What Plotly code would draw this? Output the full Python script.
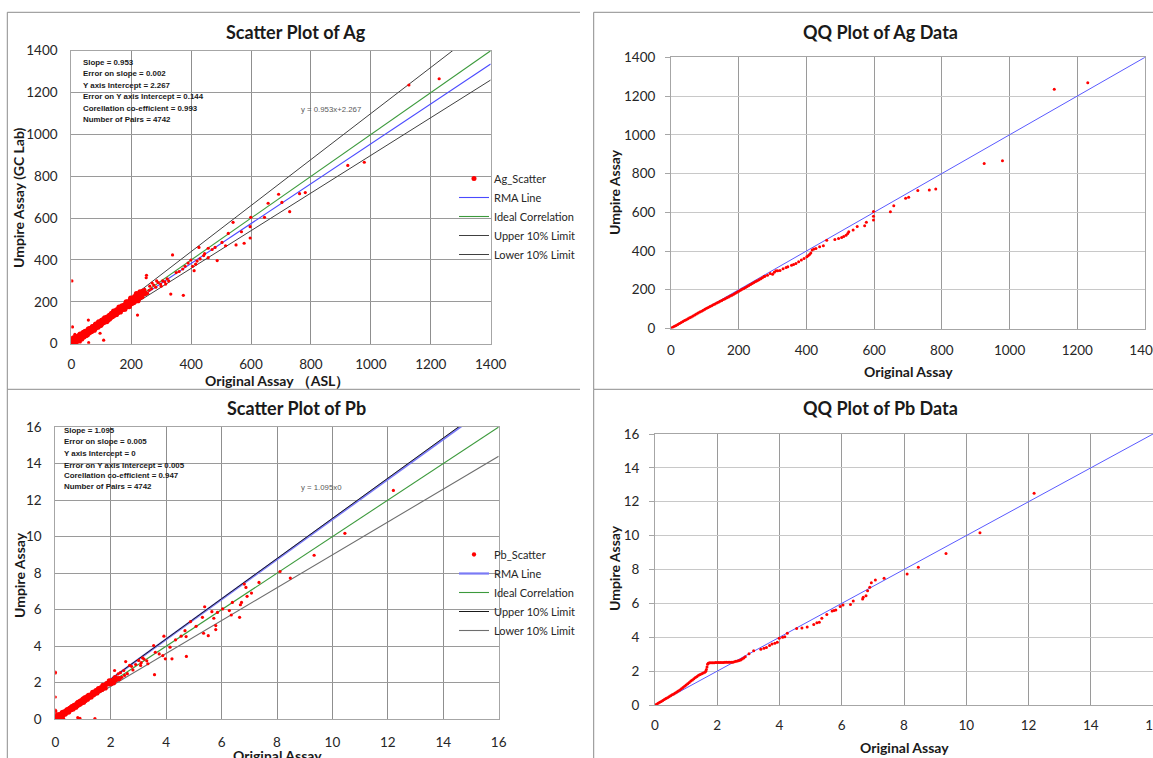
import plotly.graph_objects as go

W, H = 1153, 758

# ---------------- DATA ----------------
# Ag scatter: dense cloud (original, umpire)
ag_cloud_x = [1, 2, 3, 4, 5, 6, 7, 8, 9, 10,
              12, 13, 14, 15, 16, 18, 19, 20, 21, 22,
              24, 25, 26, 28, 29, 30, 31, 33, 34, 35,
              37, 38, 40, 41, 42, 44, 45, 47, 48, 50,
              52, 53, 55, 56, 58, 60, 61, 63, 64, 66,
              68, 70, 71, 73, 75, 76, 78, 80, 82, 84,
              86, 88, 90, 92, 94, 96, 98, 100, 102, 104,
              106, 108, 110, 112, 114, 116, 118, 120, 122, 125,
              127, 130, 132, 135, 137, 140, 142, 145, 147, 150,
              152, 155, 157, 160, 163, 165, 168, 170, 173, 176,
              178, 181, 184, 187, 190, 193, 196, 199, 202, 205,
              208, 212, 215, 218, 222, 226, 230, 235, 240, 246,
              3, 6, 9, 11, 14, 17, 20, 23, 27, 32,
              36, 39, 43, 46, 49, 54, 57, 62, 65, 69,
              72, 77, 81, 85, 89, 93, 97, 101, 105, 109,
              113, 117, 121, 124, 128, 133, 138, 143, 148, 153,
              158, 162, 167, 172, 177, 182, 188, 194, 200, 210]
ag_cloud_y = [5, 14, 2, 24, 8, 15, 22, 10, 27, 16,
              8, 23, 16, 31, 10, 25, 17, 33, 22, 14,
              30, 22, 37, 21, 33, 44, 30, 41, 24, 38,
              46, 33, 42, 53, 34, 49, 43, 57, 42, 51,
              59, 44, 59, 53, 69, 54, 63, 71, 60, 71,
              61, 73, 80, 71, 81, 66, 82, 75, 92, 83,
              92, 80, 92, 103, 90, 101, 89, 103, 110, 101,
              113, 102, 111, 122, 109, 120, 107, 126, 120, 128,
              119, 135, 129, 144, 131, 142, 154, 141, 153, 141,
              160, 150, 160, 174, 153, 169, 166, 180, 166, 181,
              166, 187, 199, 183, 199, 179, 199, 217, 194, 212,
              198, 224, 212, 238, 207, 231, 246, 226, 250, 241,
              1, 11, 5, 19, 11, 23, 15, 27, 26, 39,
              33, 45, 42, 50, 42, 57, 55, 67, 60, 71,
              73, 73, 87, 83, 92, 87, 99, 98, 110, 108,
              117, 115, 114, 126, 134, 129, 141, 137, 149, 157,
              155, 164, 173, 168, 180, 176, 193, 192, 208, 204]
# Ag scatter: scattered points
ag_pts_x = [2, 4, 12, 30, 58, 96, 108, 57, 221, 251, 250, 245, 238, 255, 262, 230, 240,
            260, 268, 275, 282, 290, 298, 305, 312, 320, 300, 285, 315, 325, 270,
            332, 374, 338, 372, 350, 360, 380, 390, 399, 405, 410, 415, 420, 426, 430,
            442, 445, 457, 457, 470, 480, 487, 503, 515, 524, 540, 550, 568, 577,
            597, 597, 599, 645, 657, 692, 703, 729, 762, 781, 923, 978, 1127, 1228]
ag_pts_y = [300, 80, 45, 8, 5, 50, 17, 113, 137, 327, 315, 260, 230, 240, 275, 215, 248,
            255, 262, 280, 270, 292, 285, 300, 296, 310, 275, 300, 285, 300, 290,
            237, 231, 424, 357, 340, 345, 370, 385, 400, 370, 349, 380, 395, 460, 405,
            421, 430, 456, 411, 450, 460, 397, 484, 468, 527, 580, 472, 535, 480,
            559, 505, 604, 604, 671, 714, 675, 631, 717, 722, 852, 867, 1236, 1266]
ag_slope, ag_intercept = 0.953, 2.267
ag_line_x = [0, 1400]

ag_stats = ["Slope = 0.953", "Error on slope = 0.002", "Y axis Intercept = 2.267",
            "Error on Y axis Intercept = 0.144", "Corellation co-efficient = 0.993",
            "Number of Pairs = 4742"]
ag_eq = "y = 0.953x+2.267"

# Ag QQ
ag_qq_x = [0, 5, 10, 15, 20, 25, 30, 35, 40, 45, 50, 55, 60, 65, 70, 75, 80, 85, 90, 95,
           100, 105, 110, 115, 120, 125, 130, 135, 140, 145, 150, 155, 160, 165, 170, 175,
           180, 185, 190, 195, 200, 205, 210, 215, 220, 225, 230, 235, 240, 245, 250, 255,
           260, 265, 270, 275,
           277, 285, 293, 300, 305, 310, 315, 322, 331, 340, 345, 356, 362, 369, 377, 385,
           393, 401, 405, 409, 413, 417, 422, 428, 439, 450, 460, 484, 495, 504, 510, 517,
           522, 525, 538, 550, 572, 577, 598, 598, 598, 648, 658, 693, 702, 729, 763, 782,
           925, 979, 1132, 1231]
ag_qq_y = [2, 6, 11, 16, 21, 26, 31, 36, 41, 45, 50, 55, 60, 65, 70, 75, 80, 85, 89, 94,
           99, 104, 108, 113, 118, 122, 127, 132, 136, 141, 145, 150, 154, 159, 163, 168,
           172, 177, 182, 187, 192, 197, 202, 207, 212, 217, 222, 227, 232, 237, 242, 247,
           252, 257, 262, 268,
           270, 275, 284, 280, 290, 298, 298, 300, 308, 315, 319, 327, 330, 336, 345, 353,
           362, 370, 375, 382, 390, 405, 410, 413, 422, 427, 456, 460, 465, 470, 475, 482,
           490, 499, 508, 527, 530, 548, 560, 580, 604, 603, 634, 672, 677, 713, 715, 720,
           852, 866, 1235, 1269]
ag_qq_line = [0, 1400]

# Pb scatter: dense cloud
pb_cloud_x = [0.02, 0.04, 0.05, 0.07, 0.08, 0.1, 0.11, 0.13, 0.15, 0.16,
              0.18, 0.2, 0.22, 0.24, 0.25, 0.27, 0.29, 0.3, 0.32, 0.34,
              0.36, 0.38, 0.4, 0.42, 0.44, 0.46, 0.48, 0.5, 0.52, 0.54,
              0.56, 0.58, 0.6, 0.62, 0.64, 0.66, 0.68, 0.7, 0.72, 0.74,
              0.76, 0.78, 0.8, 0.82, 0.84, 0.86, 0.88, 0.9, 0.92, 0.94,
              0.96, 0.98, 1.0, 1.02, 1.04, 1.06, 1.08, 1.1, 1.12, 1.14,
              1.16, 1.18, 1.2, 1.23, 1.26, 1.29, 1.32, 1.35, 1.38, 1.41,
              1.44, 1.47, 1.5, 1.53, 1.56, 1.6, 1.64, 1.68, 1.72, 1.76,
              1.8, 1.85, 1.9, 1.95, 2.0, 2.05, 2.1, 2.16, 2.22, 2.3]
pb_cloud_y = [0.10, 0.03, 0.17, 0.10, 0.23, 0.08, 0.17, 0.23, 0.11, 0.25,
              0.20, 0.14, 0.29, 0.24, 0.36, 0.22, 0.33, 0.39, 0.29, 0.40,
              0.29, 0.43, 0.40, 0.52, 0.40, 0.53, 0.40, 0.53, 0.60, 0.52,
              0.62, 0.53, 0.70, 0.63, 0.57, 0.70, 0.77, 0.67, 0.77, 0.66,
              0.78, 0.86, 0.76, 0.93, 0.82, 0.91, 0.82, 0.99, 0.92, 0.89,
              1.03, 0.95, 1.10, 0.94, 1.08, 1.18, 1.03, 1.16, 1.12, 1.23,
              1.10, 1.22, 1.31, 1.21, 1.33, 1.22, 1.35, 1.48, 1.34, 1.49,
              1.44, 1.57, 1.44, 1.58, 1.68, 1.57, 1.72, 1.63, 1.86, 1.78,
              1.72, 1.95, 1.94, 2.10, 1.95, 2.12, 2.00, 2.28, 2.22, 2.23]
# Pb scatter: scattered points
pb_pts_x = [0, 0, 0, 0, 0, 0.02, 0.1, 0.05, 0.3, 0.81, 0.89, 1.43,
            2.27, 2.14, 2.47, 2.54, 2.68, 3.01, 3.08, 3.15, 3.34, 2.4, 2.6, 2.8, 2.9, 3.2,
            2.2, 2.35, 2.5, 2.75, 3.1, 3.3,
            3.55, 3.61, 3.75, 3.88, 3.58, 3.92, 3.97, 4.14, 4.21, 4.34, 4.54, 4.68, 4.72,
            4.73, 4.88, 5.08, 5.31, 5.35, 5.39, 5.52, 5.65, 5.72, 5.79, 5.79, 5.85, 6.04,
            6.28, 6.35, 6.39, 6.65, 6.68, 6.72, 6.82, 6.88, 6.92, 7.08, 7.35, 8.11, 8.48,
            9.34, 10.45, 12.2]
pb_pts_y = [2.53, 2.58, 1.22, 0.5, 0.35, 0.45, 0.3, 0.0, 0.05, 0.09, 0.05, 0.04,
            2.49, 2.67, 2.67, 3.16, 2.95, 3.22, 2.95, 3.36, 3.04, 2.3, 2.5, 2.7, 3.0, 3.3,
            2.1, 2.55, 2.4, 2.9, 3.1, 3.2,
            4.04, 3.67, 3.58, 3.49, 2.44, 4.55, 3.31, 3.95, 3.31, 4.35, 4.55, 4.85, 4.53,
            3.44, 5.35, 5.09, 5.58, 4.71, 6.16, 4.58, 5.89, 5.53, 5.13, 4.91, 5.85, 6.04,
            5.95, 5.71, 6.4, 5.58, 6.27, 6.4, 7.4, 7.22, 6.73, 6.91, 7.49, 8.09, 7.73,
            8.98, 10.18, 12.53]
pb_slope, pb_intercept = 1.095, 0.0
pb_line_x = [0, 16]

pb_stats = ["Slope = 1.095", "Error on slope = 0.005", "Y axis Intercept = 0",
            "Error on Y axis Intercept = 0.005", "Corellation co-efficient = 0.947",
            "Number of Pairs = 4742"]
pb_eq = "y = 1.095x0"

# Pb QQ
pb_qq_x = [0, 0.05, 0.1, 0.15, 0.2, 0.25, 0.3, 0.35, 0.4, 0.45, 0.5, 0.55, 0.6, 0.65, 0.7,
           0.75, 0.8, 0.85, 0.9, 0.95, 1.0, 1.05, 1.1, 1.15, 1.2, 1.25, 1.3, 1.35, 1.4,
           1.45, 1.5, 1.55, 1.6, 1.63, 1.65, 1.67, 1.69, 1.71, 1.75, 1.8, 1.85, 1.9, 1.95,
           2.0, 2.05, 2.1, 2.15, 2.2, 2.25, 2.3, 2.35, 2.4, 2.45, 2.5, 2.55, 2.6, 2.65,
           2.7, 2.75, 2.8, 2.85, 2.9,
           3.02, 3.17, 3.40, 3.50, 3.58, 3.68, 3.76, 3.85, 3.93, 3.99, 4.1, 4.17, 4.25,
           4.55, 4.72, 4.89, 5.10, 5.20, 5.28, 5.36, 5.52, 5.69, 5.75, 5.81, 5.95, 6.04,
           6.28, 6.37, 6.67, 6.69, 6.78, 6.83, 6.90, 6.95, 7.08, 7.36, 8.10, 8.46, 9.35,
           10.44, 12.18]
pb_qq_y = [0, 0.05, 0.1, 0.16, 0.21, 0.27, 0.32, 0.38, 0.43, 0.49, 0.54, 0.6, 0.65, 0.71,
           0.77, 0.83, 0.89, 0.96, 1.03, 1.1, 1.18, 1.26, 1.33, 1.41, 1.48, 1.55, 1.62,
           1.69, 1.75, 1.8, 1.85, 1.89, 1.93, 2.0, 2.1, 2.25, 2.4, 2.47, 2.5, 2.5, 2.5,
           2.5, 2.51, 2.51, 2.51, 2.51, 2.51, 2.51, 2.52, 2.52, 2.52, 2.52, 2.53, 2.53,
           2.55, 2.58, 2.6, 2.62, 2.66, 2.72, 2.78, 2.85,
           3.03, 3.21, 3.29, 3.35, 3.40, 3.52, 3.60, 3.65, 3.70, 3.94, 4.0, 4.03, 4.23,
           4.51, 4.55, 4.61, 4.76, 4.85, 4.88, 5.12, 5.35, 5.55, 5.58, 5.61, 5.81, 5.90,
           5.94, 6.14, 6.26, 6.36, 6.45, 6.75, 6.95, 7.22, 7.38, 7.48, 7.73, 8.13, 8.95,
           10.17, 12.5]
pb_qq_line = [0, 16]

titles = ["Scatter Plot of Ag", "QQ Plot of Ag Data", "Scatter Plot of Pb", "QQ Plot of Pb Data"]

# ---------------- HELPERS ----------------
def X(px):
    return px / W


def Y(py):
    return 1 - py / H


CAL = "Lato, 'Open Sans', sans-serif"
ARL = "'Liberation Sans', Arial, sans-serif"
RED = "#ff0000"

fig = go.Figure()

# ---- Ag scatter (axes 1) ----
ag_line_names = [("RMA Line", [ag_slope * v + ag_intercept for v in ag_line_x], "#4a4aff", 1.1),
                 ("Ideal Correlation", [v for v in ag_line_x], "#3c9a3c", 1.1),
                 ("Upper 10% Limit", [1.1 * v for v in ag_line_x], "#404040", 1.0),
                 ("Lower 10% Limit", [0.9 * v for v in ag_line_x], "#404040", 1.0)]
for i, (nm, ys, col, wd) in enumerate(ag_line_names):
    fig.add_trace(go.Scatter(x=ag_line_x, y=ys, mode="lines", name=nm,
                             line=dict(color=col, width=wd), legend="legend",
                             legendrank=2 + i, xaxis="x", yaxis="y"))
ag_sizes = [5.8] * len(ag_cloud_x) + [3.2] * len(ag_pts_x)
fig.add_trace(go.Scatter(x=ag_cloud_x + ag_pts_x, y=ag_cloud_y + ag_pts_y, mode="markers",
                         name="Ag_Scatter",
                         marker=dict(color=RED, size=ag_sizes, opacity=1, line=dict(width=0)),
                         legend="legend", legendrank=1, xaxis="x", yaxis="y"))

# ---- Ag QQ (axes 2) ----
fig.add_trace(go.Scatter(x=ag_qq_line, y=ag_qq_line, mode="lines", showlegend=False,
                         line=dict(color="#5a5aff", width=1), xaxis="x2", yaxis="y2"))
fig.add_trace(go.Scatter(x=ag_qq_x, y=ag_qq_y, mode="markers", showlegend=False,
                         marker=dict(color=RED, size=3, opacity=1, line=dict(width=0)),
                         xaxis="x2", yaxis="y2"))

# ---- Pb scatter (axes 3) ----
pb_line_names = [("RMA Line", [pb_slope * v + pb_intercept for v in pb_line_x], "#7a7af5", 2.2),
                 ("Ideal Correlation", [v for v in pb_line_x], "#3c9a3c", 1.1),
                 ("Upper 10% Limit", [1.1 * v for v in pb_line_x], "#1a1a1a", 1.0),
                 ("Lower 10% Limit", [0.9 * v for v in pb_line_x], "#6e6e6e", 1.1)]
for i, (nm, ys, col, wd) in enumerate(pb_line_names):
    fig.add_trace(go.Scatter(x=pb_line_x, y=ys, mode="lines", name=nm,
                             line=dict(color=col, width=wd), legend="legend2",
                             legendrank=2 + i, xaxis="x3", yaxis="y3"))
pb_sizes = [5.2] * len(pb_cloud_x) + [3.2] * len(pb_pts_x)
fig.add_trace(go.Scatter(x=pb_cloud_x + pb_pts_x, y=pb_cloud_y + pb_pts_y, mode="markers",
                         name="Pb_Scatter",
                         marker=dict(color=RED, size=pb_sizes, opacity=1, line=dict(width=0)),
                         legend="legend2", legendrank=1, xaxis="x3", yaxis="y3"))

# ---- Pb QQ (axes 4) ----
fig.add_trace(go.Scatter(x=pb_qq_line, y=pb_qq_line, mode="lines", showlegend=False,
                         line=dict(color="#5a5aff", width=1), xaxis="x4", yaxis="y4"))
fig.add_trace(go.Scatter(x=pb_qq_x, y=pb_qq_y, mode="markers", showlegend=False,
                         marker=dict(color=RED, size=3, opacity=1, line=dict(width=0)),
                         xaxis="x4", yaxis="y4"))

tickfont = dict(family=CAL, size=13.5, color="#262626")


def axis(dom, rng, dt, grid, anchor, standoff, ticks=False):
    d = dict(domain=dom, range=rng, dtick=dt, tick0=0, showgrid=True, gridcolor=grid,
             gridwidth=1, zeroline=False, showline=True, linecolor="#a6a6a6", linewidth=1,
             mirror=True, tickfont=tickfont, anchor=anchor, ticklabelstandoff=standoff,
             fixedrange=True, automargin=False, tickmode="linear",
             ticklabeloverflow="allow")
    if ticks:
        d.update(ticks="outside", ticklen=5, tickcolor="#a6a6a6", tickwidth=1)
    else:
        d.update(ticks="")
    return d


fig.update_layout(
    template="none",
    width=W, height=H, margin=dict(l=0, r=0, t=0, b=0, autoexpand=False),
    paper_bgcolor="white", plot_bgcolor="white",
    xaxis=axis([X(71.3), X(490.7)], [0, 1400], 200, "#8f8f8f", "y", 8),
    yaxis=axis([Y(343.7), Y(50.7)], [0, 1400], 200, "#9a9a9a", "x", 10),
    xaxis2=axis([X(671), X(1145)], [0, 1400], 200, "#9a9a9a", "y2", 9),
    yaxis2=axis([Y(328.5), Y(57.3)], [0, 1400], 200, "#c8c8c8", "x2", 7, ticks=True),
    xaxis3=axis([X(55.3), X(498.7)], [0, 16], 2, "#8f8f8f", "y3", 10),
    yaxis3=axis([Y(719.3), Y(427)], [0, 16], 2, "#9a9a9a", "x3", 10),
    xaxis4=axis([X(655), 1.0], [0, 16], 2, "#9a9a9a", "y4", 8),
    yaxis4=axis([Y(705), Y(434)], [0, 16], 2, "#c8c8c8", "x4", 7, ticks=True),
    legend=dict(x=X(454), y=Y(164), xanchor="left", yanchor="top",
                font=dict(family=CAL, size=11, color="#262626"), bgcolor="rgba(0,0,0,0)",
                itemwidth=30, tracegroupgap=0, borderwidth=0),
    legend2=dict(x=X(454), y=Y(540), xanchor="left", yanchor="top",
                 font=dict(family=CAL, size=11, color="#262626"), bgcolor="rgba(0,0,0,0)",
                 itemwidth=30, tracegroupgap=0, borderwidth=0),
)

ann = []
# titles
for t, (cx, cy) in zip(titles, [(296, 31.5), (880, 31.5), (296, 408), (880, 408)]):
    ann.append(dict(text="<b>%s</b>" % t, x=X(cx), y=Y(cy), xref="paper", yref="paper",
                    showarrow=False, xanchor="center", yanchor="middle",
                    font=dict(family=CAL, size=18, color="#1a1a1a")))
# axis titles
axt = [("Original Assay （ASL）", 277, 380, 0), ("Umpire Assay (GC Lab)", 18.5, 197.5, -90),
       ("Original Assay", 908, 371, 0), ("Umpire Assay", 614, 192, -90),
       ("Original Assay", 277.5, 755, 0), ("Umpire Assay", 19, 575, -90),
       ("Original Assay", 904.5, 747, 0), ("Umpire Assay", 614, 568, -90)]
for t, cx, cy, ang in axt:
    ann.append(dict(text="<b>%s</b>" % t, x=X(cx), y=Y(cy), xref="paper", yref="paper",
                    showarrow=False, xanchor="center", yanchor="middle", textangle=ang,
                    font=dict(family=CAL, size=14, color="#1a1a1a")))
# stats boxes
for stats, x0, ys in [(ag_stats, 80.6, [62, 73.5, 85.3, 97, 108.3, 119.5]),
                      (pb_stats, 61.8, [430, 441.7, 453.3, 465, 475.7, 486.5])]:
    for s, yy in zip(stats, ys):
        ann.append(dict(text="<b>%s</b>" % s, x=X(x0), y=Y(yy), xref="paper", yref="paper",
                        showarrow=False, xanchor="left", yanchor="middle",
                        font=dict(family=ARL, size=7.9, color="#1a1a1a")))
for eq, yy in [(ag_eq, 110), (pb_eq, 487)]:
    ann.append(dict(text=eq, x=X(299), y=Y(yy), xref="paper", yref="paper",
                    showarrow=False, xanchor="left", yanchor="middle",
                    font=dict(family=ARL, size=7.8, color="#595959")))
fig.update_layout(annotations=ann)

# panel borders
bc = "#8c8c8c"
segs = [(7.3, 12.3, 580, 12.3), (7.3, 12.3, 7.3, 389.3), (7.3, 389.3, 580, 389.3),
        (593.7, 12.3, 1153, 12.3), (593.7, 12.3, 593.7, 389.3), (593.7, 389.3, 1153, 389.3),
        (7.3, 389.3, 7.3, 758), (593.7, 389.3, 593.7, 758)]
fig.update_layout(shapes=[dict(type="line", xref="paper", yref="paper", x0=X(a), y0=Y(b),
                               x1=X(c), y1=Y(d), line=dict(color=bc, width=1))
                          for a, b, c, d in segs])

fig.write_html("out.html", config={"displayModeBar": False},
               post_script="document.body.style.margin='0px';"
                           "document.body.style.overflow='hidden';")
